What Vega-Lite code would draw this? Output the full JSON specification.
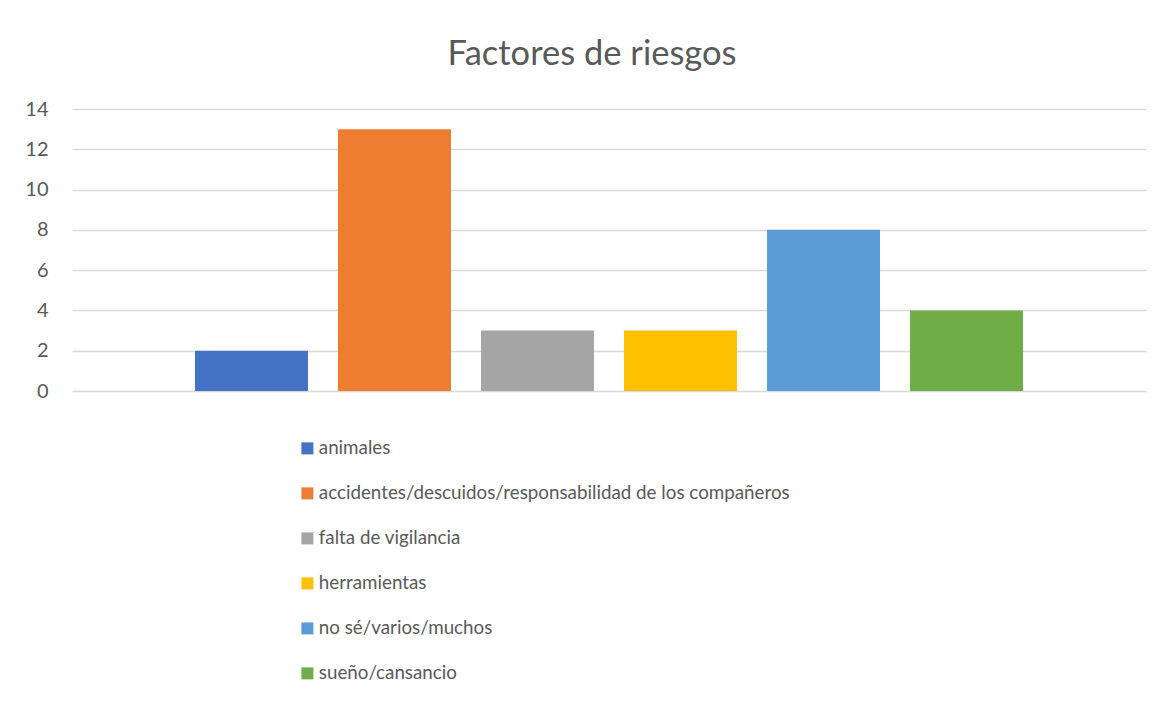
{
  "$schema": "https://vega.github.io/schema/vega-lite/v6.json",
  "width": 1074,
  "height": 282,
  "autosize": "none",
  "padding": {"left": 72, "top": 109, "right": 18, "bottom": 312},
  "background": "white",
  "title": {
    "text": "Factores de riesgos",
    "fontSize": 34.5,
    "font": "Lato",
    "fontWeight": "normal",
    "color": "#595959",
    "anchor": "middle",
    "dx": -17,
    "offset": 27
  },
  "data": {
    "values": [
      {"factor": "animales", "valor": 2},
      {"factor": "accidentes/descuidos/responsabilidad de los compañeros", "valor": 13},
      {"factor": "falta de vigilancia", "valor": 3},
      {"factor": "herramientas", "valor": 3},
      {"factor": "no sé/varios/muchos", "valor": 8},
      {"factor": "sueño/cansancio", "valor": 4}
    ]
  },
  "mark": {"type": "bar"},
  "encoding": {
    "x": {
      "field": "factor",
      "type": "nominal",
      "sort": null,
      "axis": null,
      "scale": {"paddingInner": 0.21, "paddingOuter": 0.86}
    },
    "y": {
      "field": "valor",
      "type": "quantitative",
      "scale": {"domain": [0, 14]},
      "axis": {
        "title": null,
        "values": [0, 2, 4, 6, 8, 10, 12, 14],
        "domain": false,
        "ticks": false,
        "labelPadding": 24,
        "labelFontSize": 20,
        "labelFont": "Lato",
        "labelColor": "#595959",
        "gridColor": "#d9d9d9",
        "gridWidth": 1.5
      }
    },
    "color": {
      "field": "factor",
      "type": "nominal",
      "sort": null,
      "scale": {
        "range": ["#4472C4", "#ED7D31", "#A5A5A5", "#FFC000", "#5B9BD5", "#70AD47"]
      },
      "legend": {
        "title": null,
        "orient": "none",
        "legendX": 226,
        "legendY": 330,
        "direction": "vertical",
        "symbolType": "square",
        "symbolSize": 144,
        "symbolStrokeWidth": 0,
        "labelFontSize": 18.8,
        "labelFont": "Lato",
        "labelColor": "#595959",
        "labelOffset": 2,
        "labelLimit": 700,
        "rowPadding": 25
      }
    }
  },
  "config": {"view": {"stroke": null}}
}
